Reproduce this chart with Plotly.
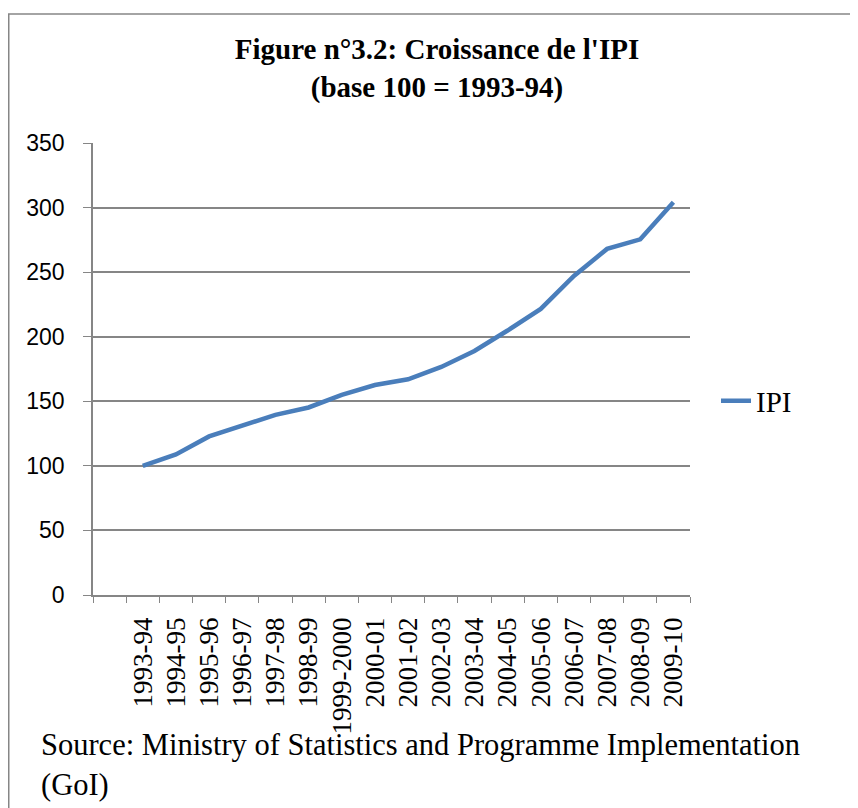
import plotly.graph_objects as go

# IPI values, base 100 = 1993-94
years = ["1993-94", "1994-95", "1995-96", "1996-97", "1997-98", "1998-99",
         "1999-2000", "2000-01", "2001-02", "2002-03", "2003-04", "2004-05",
         "2005-06", "2006-07", "2007-08", "2008-09", "2009-10"]
ipi = [100, 108.9, 122.8, 130.8, 139.5, 145.2, 154.9, 162.6, 167.0,
       176.6, 189.0, 204.8, 221.5, 247.1, 268.0, 275.4, 304.1]
y_ticks = [0, 50, 100, 150, 200, 250, 300, 350]

# Excel chart had an empty first row, so the axis starts with a blank slot
categories = [" "] + years

# page body has an 8px margin, so the figure is drawn 8px smaller
W, H = 850, 800
L, R, T, B = 85, 168, 135, 213
pw, ph = W - L - R, H - T - B

SERIF = "Liberation Serif, Times New Roman, serif"


def px_x(x):
    return (x - L) / pw


def px_y(y):
    return (H - B - y) / ph


fig = go.Figure()
fig.add_trace(go.Scatter(
    x=years, y=ipi, mode="lines", name="IPI",
    line=dict(color="#4A7EBB", width=4.5),
))

fig.update_layout(
    width=W, height=H,
    margin=dict(l=L, r=R, t=T, b=B),
    font=dict(family=SERIF, color="black"),
    paper_bgcolor="white", plot_bgcolor="white",
    title=dict(
        text="<b>Figure n°3.2: Croissance de l'IPI<br>(base 100 = 1993-94)</b>",
        x=px_x(429), xref="paper", xanchor="center",
        y=1 - 51 / H, yanchor="top",
        font=dict(family=SERIF, size=29, color="black"),
    ),
    xaxis=dict(
        type="category", categoryorder="array", categoryarray=categories,
        range=[-0.5, len(categories) - 0.5],
        tickson="boundaries", ticks="outside", ticklen=6, tickcolor="#868686",
        showline=True, linecolor="#868686", linewidth=1.5,
        showgrid=False, tickangle=-90, ticklabelstandoff=10,
        tickfont=dict(family=SERIF, size=27, color="black"),
    ),
    yaxis=dict(
        range=[0, 350], tickvals=y_ticks,
        ticks="outside", ticklen=8, tickcolor="#868686",
        showline=True, linecolor="#868686", linewidth=1.5,
        showgrid=True, gridcolor="#868686", gridwidth=1.5,
        zeroline=False, ticklabelstandoff=14,
        tickfont=dict(family="Liberation Sans", size=23, color="black"),
    ),
    showlegend=True,
    legend=dict(
        x=px_x(708), y=px_y(393), xanchor="left", yanchor="middle",
        font=dict(family=SERIF, size=29, color="black"),
        bgcolor="rgba(0,0,0,0)",
    ),
    shapes=[dict(
        type="rect", xref="paper", yref="paper",
        x0=px_x(0.75), x1=px_x(880), y0=px_y(830), y1=px_y(6),
        line=dict(color="#868686", width=1.5), layer="below",
    )],
    annotations=[dict(
        text="Source: Ministry of Statistics and Programme Implementation<br>(GoI)",
        xref="paper", yref="paper", x=px_x(31), y=px_y(718),
        xanchor="left", yanchor="top", align="left", showarrow=False,
        font=dict(family=SERIF, size=30.5, color="black"),
    )],
)

fig.write_html("out.html")
